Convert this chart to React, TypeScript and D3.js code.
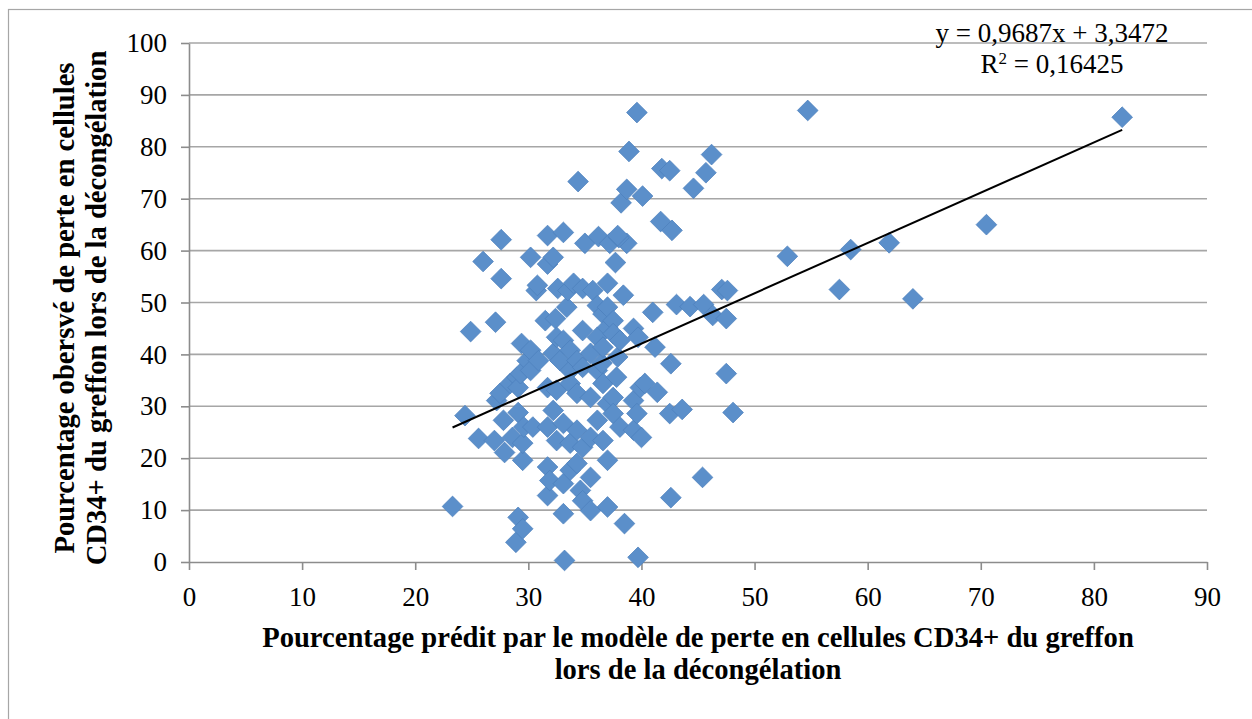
import React, { useEffect, useRef } from 'react';
import * as d3 from 'd3';

// predicted loss (model) vs observed loss of CD34+ cells after thawing
const predicted = [
  23.3, 24.4, 24.9, 25.6, 26.0, 27.0, 27.1, 27.2, 27.5, 27.6,
  27.6, 27.8, 27.9, 28.4, 28.6, 28.9, 29.0, 29.1, 29.1, 29.1,
  29.3, 29.4, 29.5, 29.5, 29.5, 29.6, 29.9, 30.2, 30.2, 30.2,
  30.4, 30.7, 30.8, 30.9, 31.5, 31.7, 31.7, 31.7, 31.7, 31.7,
  31.7, 31.9, 32.2, 32.2, 32.2, 32.4, 32.5, 32.5, 32.5, 32.6,
  32.8, 33.1, 33.1, 33.1, 33.1, 33.1, 33.2, 33.4, 33.5, 33.7,
  33.7, 33.7, 33.7, 33.7, 34.0, 34.3, 34.3, 34.3, 34.3, 34.4,
  34.6, 34.8, 34.8, 34.8, 34.8, 34.8, 35.0, 35.5, 35.5, 35.5,
  35.5, 35.5, 35.7, 36.1, 36.1, 36.1, 36.1, 36.2, 36.5, 36.6,
  36.6, 36.6, 36.6, 37.0, 37.0, 37.0, 37.0, 37.0, 37.0, 37.2,
  37.5, 37.5, 37.5, 37.5, 37.7, 37.8, 37.9, 38.1, 38.1, 38.2,
  38.4, 38.5, 38.7, 38.7, 38.9, 39.3, 39.3, 39.3, 39.6, 39.6,
  39.7, 39.7, 39.9, 40.0, 40.1, 40.3, 41.0, 41.2, 41.4, 41.7,
  41.8, 42.5, 42.5, 42.6, 42.6, 42.7, 43.1, 43.6, 44.3, 44.6,
  45.4, 45.5, 45.7, 46.2, 46.3, 47.1, 47.5, 47.5, 47.6, 48.1,
  52.9, 54.7, 57.5, 58.5, 61.9, 64.0, 70.5, 82.5, 38.0, 37.9,
];

const observed = [
  10.7, 28.2, 44.4, 23.8, 57.9, 23.4, 46.2, 31.1, 32.5, 62.1,
  54.6, 27.3, 21.1, 34.4, 24.0, 3.8, 35.6, 33.6, 28.8, 8.6,
  36.3, 42.1, 19.6, 22.9, 6.4, 26.0, 38.8, 40.8, 36.9, 58.7,
  26.0, 52.3, 53.3, 38.8, 46.5, 33.6, 26.0, 18.3, 12.8, 57.4,
  62.9, 15.7, 58.7, 40.2, 29.2, 46.9, 43.3, 33.1, 23.4, 52.7,
  38.8, 42.7, 63.5, 26.7, 15.1, 9.3, 0.3, 49.1, 52.3, 40.8,
  36.9, 34.4, 22.9, 17.7, 53.7, 38.8, 32.5, 25.4, 19.0, 73.3,
  13.8, 52.7, 44.6, 37.5, 22.1, 11.8, 61.4, 40.2, 31.7, 24.0,
  16.3, 9.9, 52.3, 49.4, 43.3, 36.9, 27.3, 62.7, 38.3, 47.8,
  41.4, 34.4, 23.4, 45.2, 53.7, 49.1, 30.5, 19.6, 10.6, 61.4,
  46.5, 44.0, 31.7, 28.6, 57.7, 35.6, 39.5, 42.7, 26.0, 69.2,
  51.4, 7.4, 61.4, 71.8, 79.1, 45.0, 31.1, 25.4, 86.6, 28.6,
  43.3, 0.9, 33.6, 24.0, 70.5, 34.4, 48.1, 41.4, 32.7, 65.6,
  75.8, 28.6, 75.4, 38.2, 12.4, 63.9, 49.6, 29.4, 49.2, 72.0,
  16.3, 49.6, 75.0, 78.5, 47.5, 52.5, 46.9, 36.3, 52.3, 28.8,
  58.9, 87.0, 52.5, 60.2, 61.5, 50.7, 65.0, 85.7, 62.5, 62.9,
];

const xTicks = [0, 10, 20, 30, 40, 50, 60, 70, 80, 90];
const yTicks = [0, 10, 20, 30, 40, 50, 60, 70, 80, 90, 100];

const slope = 0.9687;
const intercept = 3.3472;
const equationLabel = 'y = 0,9687x + 3,3472';
const r2Value = ' = 0,16425';

const xTitle = [
  'Pourcentage prédit par le modèle de perte en cellules CD34+ du greffon',
  'lors de la décongélation',
];
const yTitle = [
  'Pourcentage obersvé de perte en cellules',
  'CD34+ du greffon lors de la décongélation',
];

const W = 1252;
const H = 719;
const FONT = '"Liberation Serif", "Times New Roman", serif';

export default function App() {
  const svgRef = useRef<SVGSVGElement>(null);

  useEffect(() => {
    if (!svgRef.current) return;
    const svg = d3.select(svgRef.current);
    svg.selectAll('*').remove();

    const x = d3.scaleLinear().domain([0, 90]).range([189, 1207]);
    const y = d3.scaleLinear().domain([0, 100]).range([562, 43]);

    // outer frame
    svg.append('rect')
      .attr('x', 8.5).attr('y', 9.5)
      .attr('width', 1300).attr('height', 800)
      .attr('fill', 'none')
      .attr('stroke', '#a6a6a6')
      .attr('stroke-width', 1.2);

    // gridlines
    svg.append('g')
      .selectAll('line')
      .data(yTicks.filter(t => t > 0))
      .join('line')
      .attr('x1', x(0)).attr('x2', x(90))
      .attr('y1', d => y(d)).attr('y2', d => y(d))
      .attr('stroke', '#a6a6a6')
      .attr('stroke-width', 1.6);

    // axes
    const yAxis = svg.append('g')
      .attr('transform', `translate(${x(0)},0)`)
      .call(d3.axisLeft(y).tickValues(yTicks).tickSize(8).tickSizeOuter(0).tickPadding(14));
    const xAxis = svg.append('g')
      .attr('transform', `translate(0,${y(0)})`)
      .call(d3.axisBottom(x).tickValues(xTicks).tickSize(8).tickSizeOuter(0).tickPadding(17));

    [yAxis, xAxis].forEach(ax => {
      ax.select('.domain').attr('stroke', '#8c8c8c').attr('stroke-width', 1.6);
      ax.selectAll('.tick line').attr('stroke', '#8c8c8c').attr('stroke-width', 1.6);
      ax.selectAll('.tick text')
        .attr('fill', '#000')
        .style('font-family', FONT)
        .style('font-size', '27px');
    });

    // points
    const diamond = d3.symbol().type(d3.symbolSquare).size(215);
    svg.append('g')
      .selectAll('path')
      .data(predicted.map((p, i) => [p, observed[i]]))
      .join('path')
      .attr('d', diamond)
      .attr('transform', d => `translate(${x(d[0])},${y(d[1])}) rotate(45)`)
      .attr('fill', '#5b8fca')
      .attr('stroke', '#4d80bd')
      .attr('stroke-width', 0.7);

    // linear trend line
    const [xMin, xMax] = d3.extent(predicted) as [number, number];
    svg.append('line')
      .attr('x1', x(xMin)).attr('y1', y(slope * xMin + intercept))
      .attr('x2', x(xMax)).attr('y2', y(slope * xMax + intercept))
      .attr('stroke', '#000')
      .attr('stroke-width', 2);

    // equation
    svg.append('text')
      .attr('x', 1052).attr('y', 42)
      .attr('text-anchor', 'middle')
      .style('font-family', FONT).style('font-size', '27px')
      .text(equationLabel);
    const r2 = svg.append('text')
      .attr('x', 1052).attr('y', 73)
      .attr('text-anchor', 'middle')
      .style('font-family', FONT).style('font-size', '27px');
    r2.append('tspan').text('R');
    r2.append('tspan').attr('dy', -9).style('font-size', '17px').text('2');
    r2.append('tspan').attr('dy', 9).text(r2Value);

    // axis titles
    svg.append('g')
      .selectAll('text')
      .data(xTitle)
      .join('text')
      .attr('x', 698)
      .attr('y', (_, i) => 647 + i * 32)
      .attr('text-anchor', 'middle')
      .style('font-family', FONT).style('font-size', '28.6px').style('font-weight', 'bold')
      .text(d => d);

    svg.append('g')
      .selectAll('text')
      .data(yTitle)
      .join('text')
      .attr('transform', (_, i) => `translate(${74 + i * 32},308) rotate(-90)`)
      .attr('text-anchor', 'middle')
      .style('font-family', FONT).style('font-size', '28.6px').style('font-weight', 'bold')
      .text(d => d);
  }, []);

  return (
    <svg
      ref={svgRef}
      width={W}
      height={H}
      style={{ position: 'absolute', left: 0, top: 0, background: '#fff' }}
    />
  );
}
